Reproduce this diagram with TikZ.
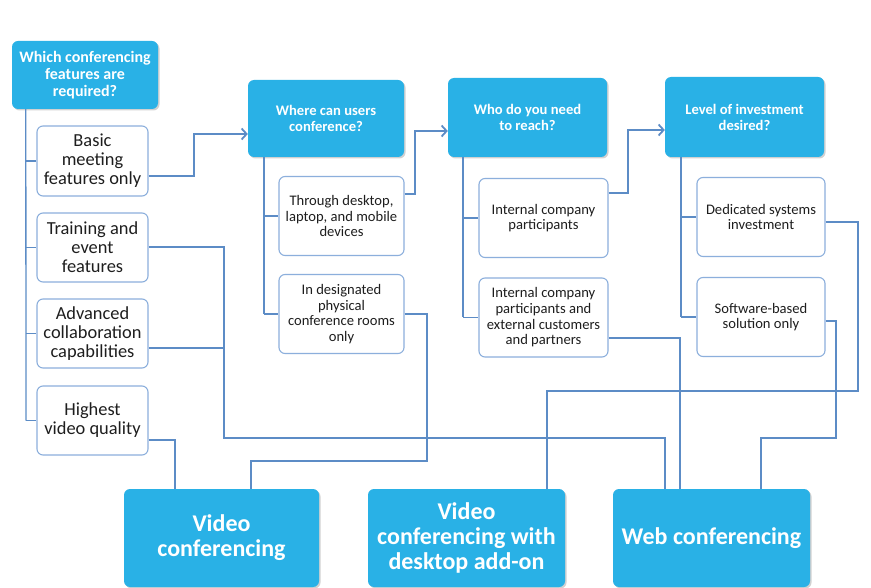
\documentclass[tikz,border=0pt]{standalone}
\usepackage{fontspec}
\setmainfont{Carlito}
\usetikzlibrary{arrows.meta,shadows}
\definecolor{hdrblue}{RGB}{41,177,230}
\definecolor{linkblue}{RGB}{92,140,198}
\definecolor{optborder}{RGB}{140,175,220}
\definecolor{txtdark}{RGB}{30,30,30}
\begin{document}
\begin{tikzpicture}[x=1pt,y=-1pt,
  hdr/.style={draw=none,fill=hdrblue,rounded corners=6pt,text=white,font=\bfseries,align=center,inner sep=0pt,
     drop shadow={shadow xshift=1.5pt,shadow yshift=-1.5pt,fill=black,opacity=0.18}},
  opt/.style={draw=optborder,line width=1.1pt,fill=white,rounded corners=6pt,text=txtdark,align=center,inner sep=0pt},
  tree/.style={draw=linkblue,line width=1.3pt},
  conn/.style={draw=linkblue,line width=2pt},
  arr/.style={conn,-{Straight Barb[length=5pt,width=11pt,line width=1.8pt]}}
]
\useasboundingbox[fill=white] (0,0) rectangle (871,588);

% headers
\node[hdr,minimum width=146pt,minimum height=68pt,font=\fontsize{16}{17}\selectfont\bfseries] (q1) at (85,75) {Which conferencing\\features are\\required?};
\node[hdr,minimum width=156pt,minimum height=77pt,font=\fontsize{14.6}{16}\selectfont\bfseries] (q2) at (326,118.5) {Where can users\\conference?};
\node[hdr,minimum width=159pt,minimum height=79pt,font=\fontsize{14.6}{16}\selectfont\bfseries] (q3) at (527.5,117.5) {Who do you need\\to reach?};
\node[hdr,minimum width=159pt,minimum height=80pt,font=\fontsize{14.6}{16}\selectfont\bfseries] (q4) at (744.5,117) {Level of investment\\desired?};

% left options
\tikzset{lopt/.style={opt,minimum width=111pt,minimum height=69pt,font=\fontsize{18.4}{19}\selectfont}}
\node[lopt,minimum height=70pt] (basic) at (92.5,161) {Basic\\meeting\\features only};
\node[lopt] (train) at (92.5,247.5) {Training and\\event\\features};
\node[lopt] (adv) at (92.5,333.5) {Advanced\\collaboration\\capabilities};
\node[lopt] (high) at (92.5,420.5) {Highest\\video quality};

% second column options
\tikzset{sopt/.style={opt,minimum height=79pt,font=\fontsize{14.6}{15.7}\selectfont}}
\node[sopt,minimum width=125pt] (thr) at (341.5,216) {Through desktop,\\laptop, and mobile\\devices};
\node[sopt,minimum width=125pt] (rooms) at (341.5,314) {In designated\\physical\\conference rooms\\only};
\node[sopt,minimum width=129pt] (intl) at (543.5,218) {Internal company\\participants};
\node[sopt,minimum width=129pt] (ext) at (543.5,317.5) {Internal company\\participants and\\external customers\\and partners};
\node[sopt,minimum width=128pt] (ded) at (761,217) {Dedicated systems\\investment};
\node[sopt,minimum width=128pt] (soft) at (761,317) {Software-based\\solution only};

% bottom results
\tikzset{res/.style={hdr,minimum height=98pt,font=\fontsize{24}{25}\selectfont\bfseries}}
\node[res,minimum width=195pt] (vc) at (221.5,538) {Video\\conferencing};
\node[res,minimum width=197pt] (vd) at (466.5,538) {Video\\conferencing with\\desktop add-on};
\node[res,minimum width=197pt] (wc) at (711.5,538) {Web conferencing};

% tree lines
\draw[tree] ([xshift=14pt]q1.south west) -- (26,420.5);
\foreach \n in {basic,train,adv,high}{\draw[tree] (26,0 |- \n.west) -- (\n.west);}
\draw[tree] (q2.south west -| 264,0) -- (264,314);
\foreach \n in {thr,rooms}{\draw[tree] (264,0 |- \n.west) -- (\n.west);}
\draw[tree] (q3.south west -| 463,0) -- (463,317.5);
\foreach \n in {intl,ext}{\draw[tree] (463,0 |- \n.west) -- (\n.west);}
\draw[tree] (q4.south west -| 681,0) -- (681,317);
\foreach \n in {ded,soft}{\draw[tree] (681,0 |- \n.west) -- (\n.west);}

% arrows to next question
\draw[arr] ([yshift=-15pt]basic.east) -- (194,176) |- ([yshift=-15.5pt]q2.west);
\draw[arr] ([yshift=22pt]thr.east) -- (415,194) |- ([yshift=-13.5pt]q3.west);
\draw[arr] ([yshift=25pt]intl.east) -- (628,193) |- ([yshift=-13pt]q4.west);

% connectors to results
\draw[conn] (train.east) -| (224,438) -| ([xshift=-46.5pt]wc.north);
\draw[conn] ([yshift=-14.5pt]adv.east) -- (224,348);
\draw[conn] ([yshift=-19.5pt]high.east) -| ([xshift=-46.5pt]vc.north);
\draw[conn] (rooms.east) -| (427,461) -| ([xshift=29.5pt]vc.north);
\draw[conn] ([yshift=-20.5pt]ext.east) -| ([xshift=-31.5pt]wc.north);
\draw[conn] ([yshift=-5pt]ded.east) -| (858,391) -| ([xshift=80.5pt]vd.north);
\draw[conn] ([yshift=-4pt]soft.east) -| (836,438) -| ([xshift=49.5pt]wc.north);
\end{tikzpicture}
\end{document}
